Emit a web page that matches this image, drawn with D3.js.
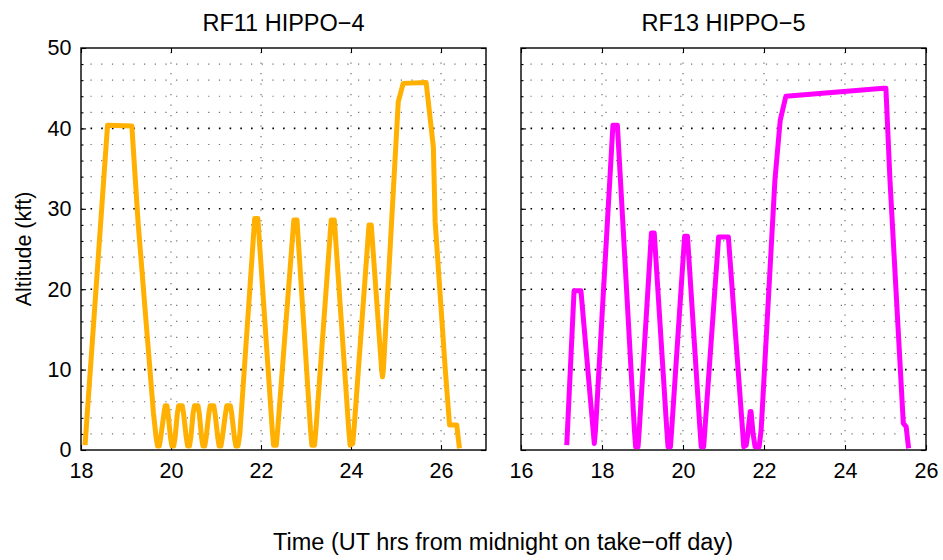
<!DOCTYPE html>
<html>
<head>
<meta charset="utf-8">
<script src="https://cdn.jsdelivr.net/npm/d3@7"></script>
<style>
  html, body { margin: 0; padding: 0; background: #fff; }
  svg { display: block; }
  text { font-family: "Liberation Sans", Arial, Helvetica, sans-serif; fill: #000; }
</style>
</head>
<body>
<svg id="chart" width="943" height="560"></svg>
<script>
// ---- Data ----
const panelTitles = ["RF11 HIPPO\u22124", "RF13 HIPPO\u22125"];
const yTickValues = [0, 10, 20, 30, 40, 50];
const xTicksLeft = [18, 20, 22, 24, 26];
const xTicksRight = [16, 18, 20, 22, 24, 26];

const hippo4Time = [18.09, 18.59, 19.13, 19.27, 19.61,
  19.67, 19.70, 19.74, 19.77, 19.85, 19.87, 19.91, 19.93,
  19.99, 20.02, 20.06, 20.09, 20.14, 20.17, 20.25, 20.28,
  20.34, 20.37, 20.41, 20.44, 20.49, 20.52, 20.60, 20.63,
  20.68, 20.71, 20.75, 20.78, 20.84, 20.87, 20.95, 20.98,
  21.04, 21.07, 21.11, 21.14, 21.21, 21.24, 21.32, 21.35,
  21.41, 21.44, 21.49, 21.53, 21.86, 21.93,
  22.25, 22.28, 22.34, 22.37, 22.73, 22.80,
  23.10, 23.13, 23.19, 23.22, 23.56, 23.63,
  23.95, 23.98, 24.04, 24.07, 24.40, 24.45,
  24.68, 24.70, 24.72, 25.05, 25.16, 25.67, 25.83, 25.87, 26.09, 26.19, 26.35, 26.41];
const hippo4Alt = [0.6, 40.4, 40.3, 28.2, 4.6,
  1.5, 0.5, 0.5, 1.5, 4.8, 5.5, 5.5, 4.8,
  1.5, 0.5, 0.5, 1.5, 4.5, 5.5, 5.5, 4.5,
  1.5, 0.5, 0.5, 1.5, 4.5, 5.5, 5.5, 4.5,
  1.5, 0.5, 0.5, 1.5, 4.5, 5.5, 5.5, 4.5,
  1.5, 0.5, 0.5, 1.5, 4.5, 5.5, 5.5, 4.5,
  1.5, 0.5, 0.5, 2.0, 28.8, 28.8,
  2.5, 0.6, 0.6, 2.5, 28.6, 28.6,
  2.5, 0.6, 0.6, 2.5, 28.6, 28.6,
  2.5, 0.6, 0.8, 2.8, 28.0, 28.0,
  10.0, 9.1, 10.0, 43.3, 45.6, 45.7, 37.7, 28.4, 10.4, 3.1, 3.1, 0.2];

const hippo5Time = [17.13, 17.31, 17.48, 17.78, 17.81, 17.84, 18.27, 18.38,
  18.80, 18.83, 18.89, 18.92, 19.22, 19.29,
  19.60, 19.63, 19.69, 19.72, 20.04, 20.11,
  20.42, 20.45, 20.51, 20.54, 20.88, 21.12,
  21.47, 21.50, 21.56, 21.60, 21.66, 21.68, 21.73, 21.78, 21.88, 21.93,
  22.27, 22.40, 22.54, 24.95, 25.01, 25.11, 25.44, 25.51, 25.57];
const hippo5Alt = [0.6, 19.8, 19.8, 2.5, 0.8, 2.5, 40.4, 40.4,
  2.5, 0.4, 0.4, 2.5, 27.0, 27.0,
  2.5, 0.4, 0.4, 2.5, 26.6, 26.6,
  2.5, 0.4, 0.4, 2.5, 26.5, 26.5,
  2.5, 0.4, 0.6, 2.0, 4.8, 4.8, 2.0, 0.4, 0.4, 2.5,
  33.6, 41.0, 44.0, 45.0, 45.0, 33.6, 3.3, 2.9, 0.2];

const panels = [
  { title: panelTitles[0], domain: [18, 27], range: [81, 486], ticks: xTicksLeft,
    t: hippo4Time, a: hippo4Alt, color: "#ffb000", yLabels: true },
  { title: panelTitles[1], domain: [16, 26], range: [521, 926], ticks: xTicksRight,
    t: hippo5Time, a: hippo5Alt, color: "#ff00ff", yLabels: false }
];

const svg = d3.select("#chart");
const y = d3.scaleLinear().domain([0, 50]).range([450, 48]);
const yMinor = d3.range(2, 50, 2);

panels.forEach(p => {
  const x = d3.scaleLinear().domain(p.domain).range(p.range);
  const g = svg.append("g");
  const [x0, x1] = p.range;

  // horizontal dotted grid
  yMinor.forEach(v => {
    const major = v % 10 === 0;
    g.append("line")
      .attr("x1", x0 + 9.5).attr("x2", x1 - 2)
      .attr("y1", y(v)).attr("y2", y(v))
      .attr("stroke", major ? "#000" : "#6e6e6e")
      .attr("stroke-width", major ? 1.6 : 1.2)
      .attr("stroke-dasharray", major ? "1.6 9.1" : "1.2 9.5");
  });
  // vertical dotted grid at major ticks
  p.ticks.filter(v => v > p.domain[0] && v < p.domain[1]).forEach(v => {
    g.append("line")
      .attr("x1", x(v)).attr("x2", x(v))
      .attr("y1", y(50) + 4).attr("y2", y(0) - 2)
      .attr("stroke", "#6e6e6e").attr("stroke-width", 1.2)
      .attr("stroke-dasharray", "1.2 9.3");
  });

  // axes via d3 axis generators
  const bottom = g.append("g").attr("transform", `translate(0,${y(0)})`)
    .call(d3.axisBottom(x).tickValues(p.ticks).tickSize(-5).tickPadding(13).tickFormat(d3.format("d")));
  const top = g.append("g").attr("transform", `translate(0,${y(50)})`)
    .call(d3.axisTop(x).tickValues(p.ticks).tickSize(-5).tickFormat(""));
  const left = g.append("g").attr("transform", `translate(${x0},0)`)
    .call(d3.axisLeft(y).tickValues(yTickValues).tickSize(-5).tickPadding(9.5)
      .tickFormat(p.yLabels ? d3.format("d") : ""));
  const right = g.append("g").attr("transform", `translate(${x1},0)`)
    .call(d3.axisRight(y).tickValues(yTickValues).tickSize(-5).tickFormat(""));
  const leftMinor = g.append("g").attr("transform", `translate(${x0},0)`)
    .call(d3.axisLeft(y).tickValues(yMinor).tickSize(-2.5).tickFormat(""));
  const rightMinor = g.append("g").attr("transform", `translate(${x1},0)`)
    .call(d3.axisRight(y).tickValues(yMinor).tickSize(-2.5).tickFormat(""));

  [bottom, top, left, right, leftMinor, rightMinor].forEach(ax => {
    ax.select(".domain").remove();
    ax.selectAll(".tick line").attr("stroke", "#000").attr("stroke-width", 1.1);
    ax.selectAll(".tick text").attr("font-size", 21.5)
      .style("font-family", "'Liberation Sans', Arial, Helvetica, sans-serif");
  });
  bottom.selectAll(".tick text").attr("dy", "0.71em");

  // frame
  g.append("rect")
    .attr("x", x0).attr("y", y(50))
    .attr("width", x1 - x0).attr("height", y(0) - y(50))
    .attr("fill", "none").attr("stroke", "#000").attr("stroke-width", 1.4);

  // data line
  const pts = p.t.map((t, i) => [t, p.a[i]]);
  g.append("path")
    .datum(pts)
    .attr("fill", "none")
    .attr("stroke", p.color)
    .attr("stroke-width", 5)
    .attr("stroke-linejoin", "round")
    .attr("stroke-linecap", "butt")
    .attr("d", d3.line().x(d => x(d[0])).y(d => y(d[1])));

  // title
  g.append("text")
    .attr("x", (x0 + x1) / 2).attr("y", 31)
    .attr("text-anchor", "middle")
    .attr("font-size", 23.5)
    .text(p.title);
});

// axis labels
svg.append("text")
  .attr("transform", "translate(31,249) rotate(-90)")
  .attr("text-anchor", "middle")
  .attr("font-size", 21.5)
  .text("Altitude (kft)");

svg.append("text")
  .attr("x", 503).attr("y", 550)
  .attr("text-anchor", "middle")
  .attr("font-size", 23.5)
  .text("Time (UT hrs from midnight on take\u2212off day)");
</script>
</body>
</html>
